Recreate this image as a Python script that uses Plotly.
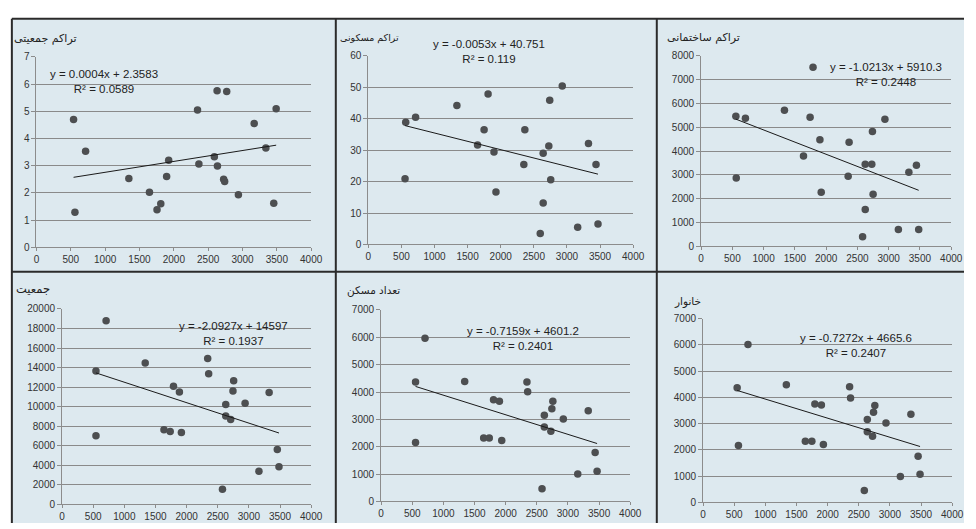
import numpy as np
import plotly.graph_objects as go

W, H = 976, 529

titles = ["تراکم جمعیتی", "تراکم مسکونی", "تراکم ساختمانی", "جمعیت", "تعداد مسکن", "خانوار"]

x1 = [540, 560, 715, 1345, 1645, 1755, 1810, 1895, 1925, 2345, 2365, 2590, 2630, 2635, 2725, 2740, 2770, 2940, 3170, 3340, 3455, 3490]
y1 = [4.70, 1.29, 3.53, 2.53, 2.03, 1.38, 1.60, 2.60, 3.20, 5.05, 3.06, 3.33, 5.75, 2.99, 2.50, 2.42, 5.73, 1.93, 4.55, 3.65, 1.62, 5.09]

x2 = [565, 555, 714, 1338, 1650, 1749, 1809, 1898, 1928, 2349, 2364, 2597, 2641, 2641, 2726, 2740, 2755, 2929, 3162, 3325, 3439, 3469]
y2 = [38.9, 20.9, 40.5, 44.2, 31.6, 36.5, 47.9, 29.4, 16.7, 25.4, 36.5, 3.5, 13.2, 29.0, 31.3, 45.9, 20.6, 50.4, 5.5, 32.1, 25.4, 6.5]

x3 = [556, 562, 709, 1333, 1638, 1743, 1790, 1900, 1921, 2352, 2367, 2583, 2625, 2625, 2730, 2740, 2751, 2940, 3155, 3323, 3444, 3480]
y3 = [5466, 2877, 5384, 5712, 3795, 5425, 7521, 4479, 2274, 2945, 4370, 411, 1548, 3452, 3452, 4822, 2192, 5342, 712, 3110, 3411, 712]

x4 = [544, 544, 707, 1335, 1636, 1736, 1789, 1884, 1916, 2338, 2354, 2575, 2628, 2628, 2707, 2744, 2755, 2939, 3161, 3325, 3456, 3483]
y4 = [13644, 7022, 18802, 14476, 7654, 7454, 12080, 11514, 7354, 14942, 13378, 1564, 10216, 9051, 8686, 11614, 12646, 10349, 3394, 11448, 5624, 3860]

x5 = [553, 553, 705, 1342, 1647, 1737, 1805, 1900, 1937, 2342, 2353, 2584, 2621, 2621, 2726, 2742, 2758, 2926, 3158, 3326, 3437, 3468]
y5 = [4364, 2158, 5962, 4388, 2325, 2325, 3720, 3661, 2230, 4364, 4007, 465, 3148, 2719, 2564, 3387, 3661, 3017, 1002, 3315, 1789, 1109]

x6 = [547, 568, 721, 1337, 1642, 1747, 1795, 1900, 1932, 2353, 2368, 2589, 2637, 2637, 2721, 2737, 2758, 2937, 3168, 3337, 3453, 3484]
y6 = [4369, 2172, 6020, 4481, 2333, 2333, 3748, 3711, 2209, 4406, 3984, 459, 3165, 2693, 2520, 3438, 3699, 3028, 993, 3364, 1762, 1080]

slopes = [0.0004, -0.0053, -1.0213, -2.0927, -0.7159, -0.7272]
intercepts = [2.3583, 40.751, 5910.3, 14597, 4601.2, 4665.6]
eq_labels = ["y = 0.0004x + 2.3583<br>R² = 0.0589",
             "y = -0.0053x + 40.751<br>R² = 0.119",
             "y = -1.0213x + 5910.3<br>R² = 0.2448",
             "y = -2.0927x + 14597<br>R² = 0.1937",
             "y = -0.7159x + 4601.2<br>R² = 0.2401",
             "y = -0.7272x + 4665.6<br>R² = 0.2407"]
y_max = [7, 60, 8000, 20000, 7000, 7000]
y_dtick = [1, 10, 1000, 2000, 1000, 1000]

xs = [x1, x2, x3, x4, x5, x6]
ys = [y1, y2, y3, y4, y5, y6]

# layout geometry in pixels: (x0, x1, ytop, ybottom)
plot_px = [(34, 313, 52, 247), (371, 640, 51, 244), (709, 963, 51, 246),
           (60, 313, 310, 510), (384, 637, 311, 507), (711, 964, 320, 508)]
title_px = [(77, 33), (404, 33), (751, 32), (50, 290), (405, 291), (711, 302)]
title_size = [11, 9.5, 11, 11.5, 10.5, 10.5]
eq_px = [(103, 77), (494, 47), (897, 70), (234, 335), (528, 340), (866, 347)]

def px(x):
    return x / W

def py(y):
    return 1 - y / H

fig = go.Figure()
BG = "#dde9ef"
for i in range(6):
    n = "" if i == 0 else str(i + 1)
    xa, ya = "x" + n, "y" + n
    fig.add_trace(go.Scatter(x=xs[i], y=ys[i], mode="markers", xaxis=xa, yaxis=ya,
                             marker=dict(size=7.5, color="#4d4f51"), showlegend=False,
                             hoverinfo="x+y"))
    lx = np.array([min(xs[i]), max(xs[i])], dtype=float)
    fig.add_trace(go.Scatter(x=lx, y=slopes[i] * lx + intercepts[i], mode="lines",
                             xaxis=xa, yaxis=ya, line=dict(color="#1a1a1a", width=1),
                             showlegend=False, hoverinfo="skip"))
    x0, x1p, yt, yb = plot_px[i]
    common = dict(showline=True, linecolor="#8c8c8c", linewidth=1, ticks="outside",
                  tickcolor="#8c8c8c", zeroline=False,
                  tickfont=dict(family="Liberation Sans", size=10, color="#333333"))
    fig.layout["xaxis" + n] = dict(domain=[px(x0), px(x1p)], range=[0, 4000], dtick=500,
                                   tick0=0, showgrid=False, anchor=ya, fixedrange=True,
                                   ticklen=3, tickformat="d", **common)
    fig.layout["yaxis" + n] = dict(domain=[py(yb), py(yt)], range=[0, y_max[i]], dtick=y_dtick[i],
                                   tick0=0, showgrid=True, gridcolor="#8a8a8a", gridwidth=1,
                                   anchor=xa, fixedrange=True, ticklen=4, tickformat="d", **common)
    tx, ty = title_px[i]
    fig.add_annotation(text=titles[i], x=px(tx), y=py(ty), xref="paper", yref="paper",
                       xanchor="right", yanchor="middle", showarrow=False,
                       font=dict(family="DejaVu Sans", size=title_size[i], color="#222222"))
    ex, ey = eq_px[i]
    fig.add_annotation(text=eq_labels[i], x=px(ex), y=py(ey), xref="paper", yref="paper",
                       xanchor="center", yanchor="middle", showarrow=False, align="center",
                       font=dict(family="Liberation Sans", size=11.5, color="#222222"))

shapes = []
shapes.append(dict(type="rect", xref="paper", yref="paper", x0=px(9), x1=1, y0=0, y1=py(13),
                   fillcolor=BG, line=dict(width=0), layer="below"))
line_style = dict(color="#2b2b2b", width=2)
for (a, b, c, d) in [(9, 13, 976, 13), (9, 13, 9, 529), (338, 13, 338, 529),
                     (664, 13, 664, 529), (9, 272, 976, 272)]:
    shapes.append(dict(type="line", xref="paper", yref="paper", x0=px(a), y0=py(b),
                       x1=px(c), y1=py(d), line=line_style, layer="above"))

fig.update_layout(width=W, height=H, margin=dict(l=0, r=0, t=0, b=0),
                  paper_bgcolor="white", plot_bgcolor="rgba(0,0,0,0)", shapes=shapes)

fig.write_html("out.html", config={"displayModeBar": False},
               post_script="document.body.style.margin='0px';")
